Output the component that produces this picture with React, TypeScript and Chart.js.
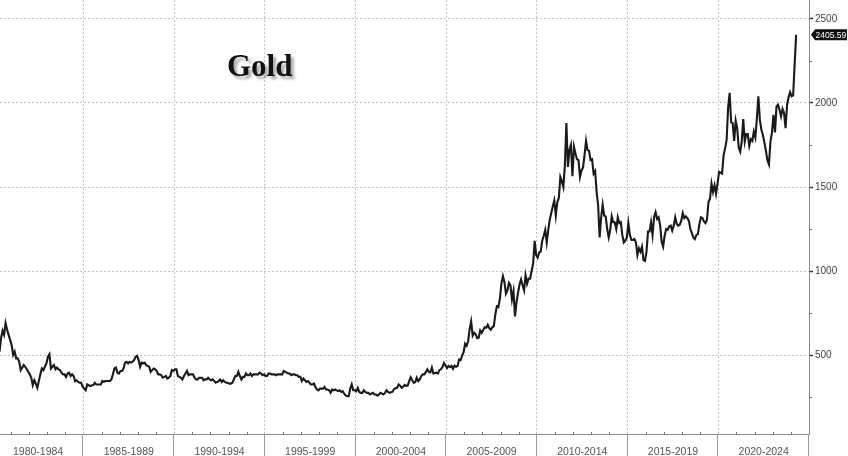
import React, { useEffect, useRef } from "react";
import { Chart, registerables } from "chart.js";

Chart.register(...registerables);

// Monthly gold price (USD/oz), starting January 1980
const seriesStartYear = 1980;

const gold1980s = [
  650, 640, 500, 515, 520, 600, 645, 620, 690, 650, 620, 590,
  560, 500, 520, 480, 480, 460, 410, 425, 440, 430, 415, 400,
  385, 365, 320, 350, 330, 305, 345, 385, 420, 410, 430, 450,
  490, 505, 420, 430, 440, 415, 425, 415, 410, 395, 385, 385,
  370, 390, 395, 375, 385, 375, 345, 350, 340, 335, 335, 310,
  300, 290, 325, 320, 315, 320, 320, 335, 325, 325, 325, 325,
  345, 340, 345, 345, 345, 345, 355, 385, 420, 425, 395, 390,
  405, 405, 420, 455, 460, 450, 460, 455, 460, 470, 490, 495,
  470, 430, 455, 450, 455, 440, 435, 430, 400, 410, 420, 415,
  405, 385, 385, 380, 365, 370, 375, 360, 365, 375, 410, 405,
];

const gold1990s = [
  415, 415, 375, 370, 365, 355, 375, 390, 405, 380, 385, 385,
  385, 365, 355, 355, 365, 365, 365, 350, 355, 355, 365, 355,
  350, 355, 345, 335, 340, 345, 355, 340, 350, 340, 335, 335,
  330, 330, 335, 355, 375, 375, 400, 375, 355, 370, 370, 390,
  380, 380, 390, 375, 385, 385, 385, 385, 395, 390, 380, 385,
  375, 375, 390, 390, 385, 385, 385, 380, 385, 385, 385, 385,
  405, 400, 395, 390, 390, 380, 385, 385, 380, 380, 370, 370,
  345, 360, 350, 340, 345, 335, 325, 325, 330, 310, 295, 290,
  300, 300, 300, 310, 295, 295, 290, 275, 295, 290, 295, 290,
  285, 290, 280, 285, 270, 260, 255, 255, 300, 325, 290, 290,
];

const gold2000s = [
  285, 305, 280, 275, 275, 290, 280, 275, 275, 265, 270, 275,
  265, 265, 258, 265, 275, 270, 265, 275, 290, 280, 275, 278,
  282, 298, 302, 305, 325, 318, 305, 312, 322, 316, 318, 345,
  368, 350, 335, 338, 365, 345, 355, 375, 385, 385, 398, 415,
  400, 397, 425, 390, 393, 395, 390, 410, 415, 428, 452, 438,
  422, 435, 428, 435, 418, 437, 430, 435, 473, 470, 495, 517,
  568, 555, 582, 655, 700, 615, 632, 623, 600, 603, 646, 632,
  650, 665, 662, 680, 660, 650, 665, 672, 743, 790, 785, 835,
  925, 970, 935, 865, 885, 930, 915, 830, 880, 730, 815, 870,
  920, 950, 915, 885, 975, 925, 955, 955, 1000, 1045, 1180, 1095,
];

const gold2010s = [
  1080, 1110, 1115, 1180, 1210, 1245, 1170, 1245, 1305, 1345, 1385, 1420,
  1330, 1410, 1435, 1560, 1535, 1500, 1630, 1880, 1620, 1720, 1750, 1565,
  1740, 1700, 1665, 1660, 1560, 1600, 1615, 1690, 1775, 1720, 1715, 1660,
  1665, 1580, 1595, 1470, 1390, 1200, 1320, 1395, 1330, 1325, 1250, 1200,
  1245, 1325, 1290, 1290, 1250, 1320, 1285, 1290, 1215, 1170, 1180, 1200,
  1285, 1215, 1185, 1185, 1190, 1170, 1095, 1135, 1115, 1145, 1065, 1060,
  1115, 1235, 1235, 1290, 1215, 1320, 1350, 1310, 1320, 1275, 1175, 1145,
  1210, 1250, 1245, 1265, 1270, 1240, 1270, 1320, 1280, 1270, 1275, 1300,
  1345, 1315, 1325, 1315, 1300, 1250, 1225, 1200, 1190, 1215, 1220, 1280,
  1320, 1315, 1295, 1285, 1305, 1410, 1430, 1520, 1470, 1510, 1460, 1520,
];

const gold2020s = [
  1590, 1585, 1580, 1690, 1730, 1780, 1975, 2060, 1885, 1880, 1775, 1895,
  1850, 1735, 1710, 1770, 1905, 1770, 1815, 1815, 1745, 1785, 1775, 1830,
  1795, 1905, 2040, 1900, 1840, 1810, 1765, 1715, 1660, 1635, 1770, 1825,
  1930, 1825, 1980, 1990, 1960, 1920, 1965, 1940, 1850, 1990, 2035, 2065,
  2040, 2045, 2230, 2405.59,
];

const periodStarts = [1980, 1985, 1990, 1995, 2000, 2005, 2010, 2015, 2020];
const periodLabels = [
  "1980-1984", "1985-1989", "1990-1994", "1995-1999", "2000-2004",
  "2005-2009", "2010-2014", "2015-2019", "2020-2024",
];
const yTickValues = [500, 1000, 1500, 2000, 2500];
const yMinorValues = [250, 750, 1250, 1750, 2250];
const xMin = 1980.4;
const xMax = 2025;
const yMin = 30;
const yMax = 2613;

const allValues = [...gold1980s, ...gold1990s, ...gold2000s, ...gold2010s, ...gold2020s];
const points = allValues.map((v, i) => ({ x: seriesStartYear + i / 12 + 1 / 24, y: v }));
const lastValue = allValues[allValues.length - 1];

const xTickValues = [
  ...periodStarts.filter((s) => s > xMin),
  ...periodStarts.map((s) => s + 2.5),
].sort((a, b) => a - b);

const isBoundary = (v: number) => periodStarts.some((s) => Math.abs(s - v) < 1e-6);

const extrasPlugin = {
  id: "extras",
  afterDraw(chart: any) {
    const { ctx, chartArea } = chart;
    const x = chart.scales.x;
    const y = chart.scales.y;
    ctx.save();
    // separators between period labels
    ctx.strokeStyle = "#9a9a9a";
    ctx.lineWidth = 1;
    const seps = [...periodStarts.filter((s) => s > xMin), xMax];
    for (const s of seps) {
      const px = Math.round(x.getPixelForValue(s)) - 0.5;
      ctx.beginPath();
      ctx.moveTo(px, chartArea.bottom);
      ctx.lineTo(px, chart.height);
      ctx.stroke();
    }
    // yearly minor ticks on x axis
    ctx.strokeStyle = "#777";
    for (let yr = Math.ceil(xMin); yr < xMax; yr++) {
      if (isBoundary(yr)) continue;
      const px = Math.round(x.getPixelForValue(yr)) + 0.5;
      ctx.beginPath();
      ctx.moveTo(px, chartArea.bottom - 2);
      ctx.lineTo(px, chartArea.bottom + 1);
      ctx.stroke();
    }
    // minor ticks on y axis
    for (const v of yMinorValues) {
      const py = Math.round(y.getPixelForValue(v)) + 0.5;
      ctx.beginPath();
      ctx.moveTo(chartArea.right, py);
      ctx.lineTo(chartArea.right + 3, py);
      ctx.stroke();
    }
    // last price tag
    const py = y.getPixelForValue(lastValue);
    const left = chartArea.right + 2;
    const right = chart.width - 1;
    const h = 5.5;
    ctx.fillStyle = "#111";
    ctx.beginPath();
    ctx.moveTo(left, py);
    ctx.lineTo(left + 4, py - h);
    ctx.lineTo(right, py - h);
    ctx.lineTo(right, py + h);
    ctx.lineTo(left + 4, py + h);
    ctx.closePath();
    ctx.fill();
    ctx.fillStyle = "#fff";
    ctx.font = "8.5px 'Liberation Sans', sans-serif";
    ctx.textAlign = "left";
    ctx.textBaseline = "middle";
    ctx.fillText(lastValue.toFixed(2), left + 4.5, py + 0.5);
    ctx.restore();
  },
};

export default function App() {
  const canvasRef = useRef<HTMLCanvasElement | null>(null);

  useEffect(() => {
    document.body.style.margin = "0";
    const canvas = canvasRef.current;
    if (!canvas) return;
    const chart = new Chart(canvas, {
      type: "line",
      data: {
        datasets: [
          {
            data: points,
            borderColor: "#1a1a1a",
            borderWidth: 2.1,
            pointRadius: 0,
            tension: 0,
            fill: false,
          },
        ],
      },
      options: {
        animation: false,
        responsive: false,
        devicePixelRatio: 1,
        layout: { padding: 0 },
        plugins: {
          legend: { display: false },
          tooltip: { enabled: false },
          title: { display: false },
        },
        scales: {
          x: {
            type: "linear",
            position: "bottom",
            min: xMin,
            max: xMax,
            afterBuildTicks: (s: any) => {
              s.ticks = xTickValues.map((v) => ({ value: v }));
            },
            afterFit: (s: any) => {
              s.height = 22;
              s.paddingLeft = 0;
              s.paddingRight = 0;
            },
            grid: {
              color: (c: any) => (c.tick && isBoundary(c.tick.value) ? "#c2c2c2" : "rgba(0,0,0,0)"),
              drawTicks: false,
              lineWidth: 1,
            },
            border: { display: true, color: "#8a8a8a", dash: [2, 2] },
            ticks: {
              autoSkip: false,
              maxRotation: 0,
              minRotation: 0,
              padding: 12,
              color: "#555",
              font: { family: "'Liberation Sans', sans-serif", size: 10.5 },
              callback: (v: any) => {
                const i = periodStarts.findIndex((s) => Math.abs(s + 2.5 - Number(v)) < 1e-6);
                return i >= 0 ? periodLabels[i] : "";
              },
            },
          },
          y: {
            type: "linear",
            position: "right",
            min: yMin,
            max: yMax,
            afterBuildTicks: (s: any) => {
              s.ticks = yTickValues.map((v) => ({ value: v }));
            },
            afterFit: (s: any) => {
              s.width = 39;
              s.paddingTop = 0;
              s.paddingBottom = 0;
            },
            grid: {
              color: "#c2c2c2",
              lineWidth: 1,
              drawTicks: true,
              tickLength: 4,
              tickColor: "#333",
              tickWidth: 1.5,
              tickBorderDash: [],
            },
            border: { display: true, color: "#8a8a8a", dash: [2, 2] },
            ticks: {
              padding: 2,
              color: "#444",
              font: { family: "'Liberation Sans', sans-serif", size: 10 },
              callback: (v: any) => String(v),
            },
          },
        },
      },
      plugins: [extrasPlugin],
    });
    return () => chart.destroy();
  }, []);

  return (
    <div style={{ position: "relative", width: 848, height: 456, background: "#fff" }}>
      <canvas ref={canvasRef} width={848} height={456} style={{ display: "block" }} />
      <div
        style={{
          position: "absolute",
          left: 227,
          top: 51,
          fontFamily: "'Liberation Serif', 'DejaVu Serif', serif",
          fontWeight: "bold",
          fontSize: 31,
          lineHeight: "30px",
          color: "#111",
          textShadow: "3px 3px 3px rgba(0,0,0,0.35)",
          pointerEvents: "none",
        }}
      >
        Gold
      </div>
    </div>
  );
}
